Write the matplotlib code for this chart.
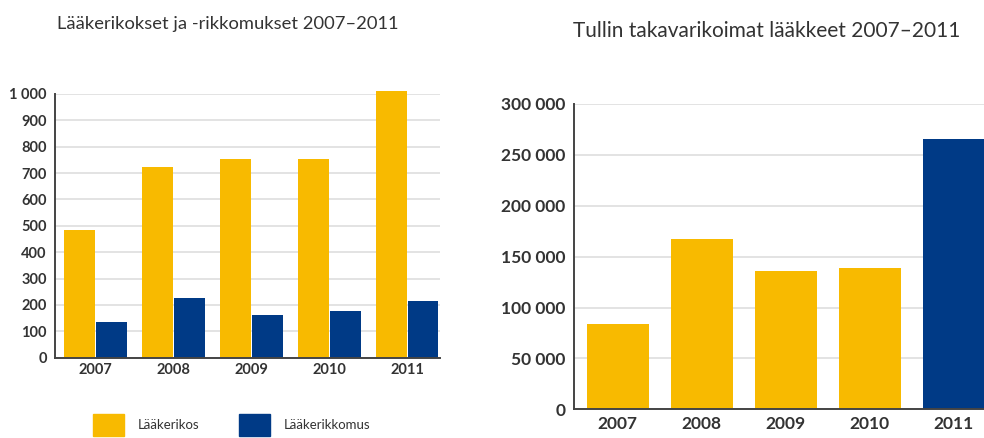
import matplotlib.pyplot as plt
from matplotlib.patches import Patch
from matplotlib.ticker import FuncFormatter

YEARS = ["2007", "2008", "2009", "2010", "2011"]
RIKOS = [484, 723, 755, 755, 1010]
RIKKOMUS = [134, 225, 161, 178, 215]
TAKAVARIKOT = [83500, 167600, 135600, 139200, 265900]

LEFT_TITLE = "Lääkerikokset ja -rikkomukset 2007–2011"
RIGHT_TITLE = "Tullin takavarikoimat lääkkeet 2007–2011"
LEGEND_LABELS = ["Lääkerikos", "Lääkerikkomus"]

YELLOW = "#F8BA00"
BLUE = "#003A86"
TEXT = "#333333"
GRID = "#E3E3E3"

plt.rcParams["font.family"] = ["Lato", "DejaVu Sans"]


def thousands(v, _pos):
    return f"{int(v):,}".replace(",", " ")


def style_axes(ax, size):
    ax.grid(axis="y", color=GRID, linewidth=1.4)
    ax.set_axisbelow(True)
    for side in ("top", "right"):
        ax.spines[side].set_visible(False)
    ax.spines["left"].set_color("#444444")
    ax.spines["left"].set_linewidth(1.4)
    ax.spines["bottom"].set_color("#444444")
    ax.spines["bottom"].set_linewidth(1.4)
    ax.tick_params(length=0, labelsize=size, labelcolor=TEXT)
    for lab in ax.get_xticklabels() + ax.get_yticklabels():
        lab.set_fontweight("bold")
    ax.yaxis.set_major_formatter(FuncFormatter(thousands))


fig = plt.figure(figsize=(9.84, 4.38), dpi=100)

# left: rikokset ja rikkomukset
ax1 = fig.add_axes([0.0559, 0.1833, 0.3913, 0.6021])
x = list(range(len(YEARS)))
w = 0.39
ax1.bar([i - w / 2 - 0.01 for i in x], RIKOS, width=w, color=YELLOW, clip_on=False)
ax1.bar([i + w / 2 + 0.01 for i in x], RIKKOMUS, width=w, color=BLUE, clip_on=False)
ax1.set_xlim(-0.52, 4.42)
ax1.set_ylim(0, 1000)
ax1.set_yticks(range(0, 1001, 100))
ax1.set_xticks(x)
ax1.set_xticklabels(YEARS)
style_axes(ax1, 10.5)
ax1.tick_params(axis="x", pad=4)
ax1.tick_params(axis="y", pad=6)
fig.text(0.058, 0.945, LEFT_TITLE, fontsize=13.2, color=TEXT, va="center")

# right: takavarikot
ax2 = fig.add_axes([0.5833, 0.0655, 0.4177, 0.6971])
colors = [YELLOW] * (len(YEARS) - 1) + [BLUE]
ax2.bar(x, TAKAVARIKOT, width=0.74, color=colors)
ax2.set_xlim(-0.52, 4.37)
ax2.set_ylim(0, 300000)
ax2.set_yticks(range(0, 300001, 50000))
ax2.set_xticks(x)
ax2.set_xticklabels(YEARS)
style_axes(ax2, 12.5)
ax2.tick_params(axis="x", pad=5)
ax2.tick_params(axis="y", pad=6)
fig.text(0.582, 0.93, RIGHT_TITLE, fontsize=15, color=TEXT, va="center")

handles = [Patch(color=YELLOW), Patch(color=BLUE)]
fig.legend(handles, LEGEND_LABELS, loc="lower left", bbox_to_anchor=(0.082, -0.022),
           ncol=2, frameon=False, fontsize=9.5, labelcolor=TEXT,
           handlelength=2.4, handleheight=2.2, handletextpad=1.0, columnspacing=3.0)

fig.savefig("out.png", dpi=100)
